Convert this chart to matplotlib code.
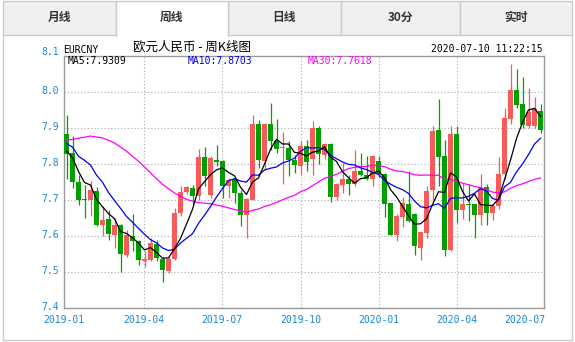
import numpy as np
import pandas as pd
import matplotlib
matplotlib.use("Agg")
import matplotlib.pyplot as plt
from matplotlib.patches import Rectangle
from matplotlib.lines import Line2D
import datetime as dt

W, H = 575, 342

# ---------------- data ----------------
tabs = ["月线", "周线", "日线", "30分", "实时"]
active_tab = 1
title_text = "欧元人民币 - 周K线图"
symbol = "EURCNY"
timestamp = "2020-07-10 11:22:15"
ma_labels = ["MA5:7.9309", "MA10:7.8703", "MA30:7.7618"]
y_ticks = [8.1, 8.0, 7.9, 7.8, 7.7, 7.6, 7.5, 7.4]
x_tick_labels = ["2019-01", "2019-04", "2019-07", "2019-10", "2020-01", "2020-04", "2020-07"]
first_week = "2019-01-04"

# estimated weekly closes before the visible window (2018-06 .. 2018-12), used for the moving averages
prior_closes = [7.659, 7.611, 7.610, 7.639, 7.706, 7.720, 7.816, 7.840, 7.895, 7.949,
                8.005, 7.950, 8.016, 8.059, 8.021, 7.985, 7.896, 8.024, 7.992, 8.005,
                7.848, 7.954, 7.811, 7.863, 7.910, 7.843, 7.891, 7.854, 7.764]

opens = [7.884, 7.831, 7.750, 7.703, 7.699, 7.726, 7.631, 7.648, 7.604, 7.630,
         7.548, 7.601, 7.585, 7.530, 7.534, 7.579, 7.537, 7.504, 7.536, 7.663,
         7.722, 7.734, 7.712, 7.819, 7.714, 7.812, 7.807, 7.738, 7.757, 7.719,
         7.659, 7.701, 7.912, 7.809, 7.912, 7.865, 7.845, 7.845, 7.812, 7.794,
         7.851, 7.815, 7.900, 7.826, 7.856, 7.707, 7.743, 7.758, 7.745, 7.780,
         7.770, 7.759, 7.807, 7.773, 7.691, 7.604, 7.653, 7.690, 7.661, 7.568,
         7.608, 7.727, 7.895, 7.821, 7.561, 7.882, 7.671, 7.689, 7.688, 7.657,
         7.737, 7.663, 7.683, 7.771, 7.926, 8.006, 7.966, 7.906, 7.906, 7.947]
highs = [7.937, 7.877, 7.770, 7.743, 7.752, 7.735, 7.684, 7.673, 7.650, 7.634,
         7.618, 7.662, 7.590, 7.557, 7.594, 7.590, 7.543, 7.543, 7.678, 7.740,
         7.740, 7.743, 7.842, 7.848, 7.822, 7.854, 7.810, 7.761, 7.761, 7.728,
         7.706, 7.937, 7.923, 7.914, 7.969, 7.925, 7.890, 7.863, 7.826, 7.863,
         7.866, 7.920, 7.905, 7.858, 7.858, 7.748, 7.803, 7.770, 7.838, 7.830,
         7.821, 7.826, 7.823, 7.776, 7.693, 7.660, 7.709, 7.780, 7.664, 7.612,
         7.738, 7.905, 7.981, 7.867, 7.906, 7.906, 7.748, 7.745, 7.690, 7.773,
         7.744, 7.690, 7.820, 7.956, 8.077, 8.065, 8.043, 8.012, 7.986, 7.966]
lows = [7.759, 7.733, 7.685, 7.650, 7.655, 7.627, 7.599, 7.590, 7.567, 7.501,
        7.541, 7.557, 7.520, 7.513, 7.530, 7.530, 7.471, 7.497, 7.534, 7.655,
        7.718, 7.690, 7.701, 7.740, 7.705, 7.794, 7.706, 7.706, 7.692, 7.627,
        7.594, 7.700, 7.789, 7.784, 7.840, 7.831, 7.744, 7.766, 7.775, 7.770,
        7.780, 7.770, 7.800, 7.815, 7.694, 7.700, 7.720, 7.715, 7.740, 7.766,
        7.755, 7.738, 7.765, 7.652, 7.603, 7.587, 7.626, 7.640, 7.548, 7.534,
        7.595, 7.700, 7.738, 7.544, 7.557, 7.635, 7.646, 7.641, 7.595, 7.630,
        7.631, 7.644, 7.675, 7.757, 7.910, 7.955, 7.900, 7.900, 7.900, 7.885]
closes = [7.829, 7.749, 7.701, 7.700, 7.729, 7.631, 7.645, 7.606, 7.630, 7.550,
          7.604, 7.585, 7.532, 7.536, 7.580, 7.539, 7.505, 7.536, 7.665, 7.722,
          7.736, 7.712, 7.819, 7.766, 7.818, 7.805, 7.738, 7.756, 7.719, 7.659,
          7.704, 7.912, 7.812, 7.912, 7.865, 7.841, 7.848, 7.812, 7.796, 7.851,
          7.805, 7.900, 7.828, 7.856, 7.707, 7.744, 7.758, 7.745, 7.780, 7.769,
          7.759, 7.821, 7.773, 7.688, 7.604, 7.656, 7.692, 7.641, 7.571, 7.610,
          7.724, 7.891, 7.819, 7.560, 7.882, 7.671, 7.688, 7.686, 7.657, 7.734,
          7.663, 7.683, 7.773, 7.929, 8.006, 7.963, 7.907, 7.945, 7.952, 7.894]

# ---------------- styles ----------------
RED = "#f65a5a"
GREEN = "#00a000"
BLUE_TXT = "#1a86d6"
MONO = "DejaVu Sans Mono"
CJK = ["Noto Sans CJK SC", "DejaVu Sans"]

n = len(closes)
idx = np.arange(n)
allc = pd.Series(prior_closes + closes)
ma5 = allc.rolling(5).mean().values[-n:]
ma10 = allc.rolling(10).mean().values[-n:]
ma30 = allc.rolling(30).mean().values[-n:]

fig = plt.figure(figsize=(W / 100, H / 100), dpi=100)
fig.patch.set_facecolor("white")


def fx(x):
    return x / W


def fy(y):
    return 1 - y / H


# ---------------- tabs & panel ----------------
tab_edges = [2.5, 115.5, 227.5, 341.0, 459.5, 572.0]
for k, name in enumerate(tabs):
    x0, x1 = tab_edges[k], tab_edges[k + 1]
    if k != active_tab:
        fig.add_artist(Rectangle((fx(x0), fy(35)), fx(x1 - x0), (35 - 1) / H,
                                 transform=fig.transFigure, facecolor="#f0f0f0",
                                 edgecolor="#cccccc", linewidth=1.0))
for k, name in enumerate(tabs):
    x0, x1 = tab_edges[k], tab_edges[k + 1]
    if k == active_tab:
        fig.add_artist(Rectangle((fx(x0), fy(35.6)), fx(x1 - x0), (35.6 - 1) / H,
                                 transform=fig.transFigure, facecolor="white",
                                 edgecolor="none"))
        fig.add_artist(Line2D([fx(x0), fx(x0), fx(x1), fx(x1)],
                              [fy(35.6), fy(1), fy(1), fy(35.6)],
                              transform=fig.transFigure, color="#cccccc", lw=1.0))
    fig.text(fx((x0 + x1) / 2), fy(17.5), name, ha="center", va="center",
             fontsize=8.5, color="#333333", family=CJK, fontweight="bold")

fig.add_artist(Line2D([fx(2.5), fx(2.5), fx(572), fx(572)],
                      [fy(35), fy(340), fy(340), fy(35)],
                      transform=fig.transFigure, color="#cccccc", lw=1.0))

# ---------------- main axes ----------------
ax_left, ax_right, ax_top, ax_bottom = 64, 544, 56, 308
ax = fig.add_axes([fx(ax_left), fy(ax_bottom), fx(ax_right - ax_left),
                   (ax_bottom - ax_top) / H])
xmin, xmax = -5 / 12, n - 5 / 12
ax.set_xlim(xmin, xmax)
ax.set_ylim(7.4, 8.1)
for s in ax.spines.values():
    s.set_color("#999999")
    s.set_linewidth(1.0)
ax.set_xticks([])
ax.set_yticks([])

# grid
for v in y_ticks[1:-1]:
    ax.axhline(v, color="#aaaaaa", lw=0.8, ls=(0, (1, 2)), zorder=0)

t0 = dt.date(2019, 1, 1)
fw = dt.date.fromisoformat(first_week)
def date_pos(s):
    d = dt.date.fromisoformat(s + "-01")
    return (d - t0).days / 7.0

grid_pos = [date_pos(s) for s in x_tick_labels[1:-1]]
for p in grid_pos:
    ax.axvline(p, color="#aaaaaa", lw=0.8, ls=(0, (1, 2)), zorder=0)

# candles
bw = 5 / 6
for i in idx:
    o, h, l, c = opens[i], highs[i], lows[i], closes[i]
    col = RED if c >= o else GREEN
    ax.vlines(i, l, h, color=col, lw=0.9, zorder=2)
    lo = min(o, c)
    ht = max(abs(c - o), 0.0015)
    ax.add_patch(Rectangle((i - bw / 2, lo), bw, ht, facecolor=col,
                           edgecolor="none", zorder=3))

# moving averages
ax.plot(idx, ma30, color="#ff00ff", lw=0.9, zorder=4)
ax.plot(idx, ma10, color="#0000ee", lw=0.9, zorder=5)
ax.plot(idx, ma5, color="black", lw=0.9, zorder=6)

# ---------------- texts ----------------
def ypx(v):
    return ax_bottom - (v - 7.4) * (ax_bottom - ax_top) / 0.7

for v in y_ticks:
    yy = ypx(v) - 1
    if v == 8.1:
        yy = 52
    fig.text(fx(58.5), fy(yy), f"{v:.1f}", ha="right", va="center",
             fontsize=7, color=BLUE_TXT, family=MONO)

def xpx(p):
    return ax_left + (p - xmin) * (ax_right - ax_left) / (xmax - xmin)

fig.text(fx(ax_left), fy(320), x_tick_labels[0], ha="center", va="center",
         fontsize=7, color=BLUE_TXT, family=MONO)
for p, lab in zip(grid_pos, x_tick_labels[1:-1]):
    fig.text(fx(xpx(p)), fy(320), lab, ha="center", va="center",
             fontsize=7, color=BLUE_TXT, family=MONO)
fig.text(fx(ax_right + 1), fy(320), x_tick_labels[-1], ha="right", va="center",
         fontsize=7, color=BLUE_TXT, family=MONO)

fig.text(fx(63), fy(50), symbol, ha="left", va="center", fontsize=7,
         color="black", family=MONO)
fig.text(fx(133), fy(47.5), title_text, ha="left", va="center", fontsize=9,
         color="black", family=CJK)
fig.text(fx(543), fy(49.5), timestamp, ha="right", va="center", fontsize=7,
         color="black", family=MONO)

ma_cols = ["black", "#0000ee", "#ff00ff"]
ma_x = [68, 188, 308]
for lab, col, x in zip(ma_labels, ma_cols, ma_x):
    fig.text(fx(x), fy(61.5), lab, ha="left", va="center", fontsize=7,
             color=col, family=MONO)

fig.savefig("out.png", dpi=100, facecolor="white")
